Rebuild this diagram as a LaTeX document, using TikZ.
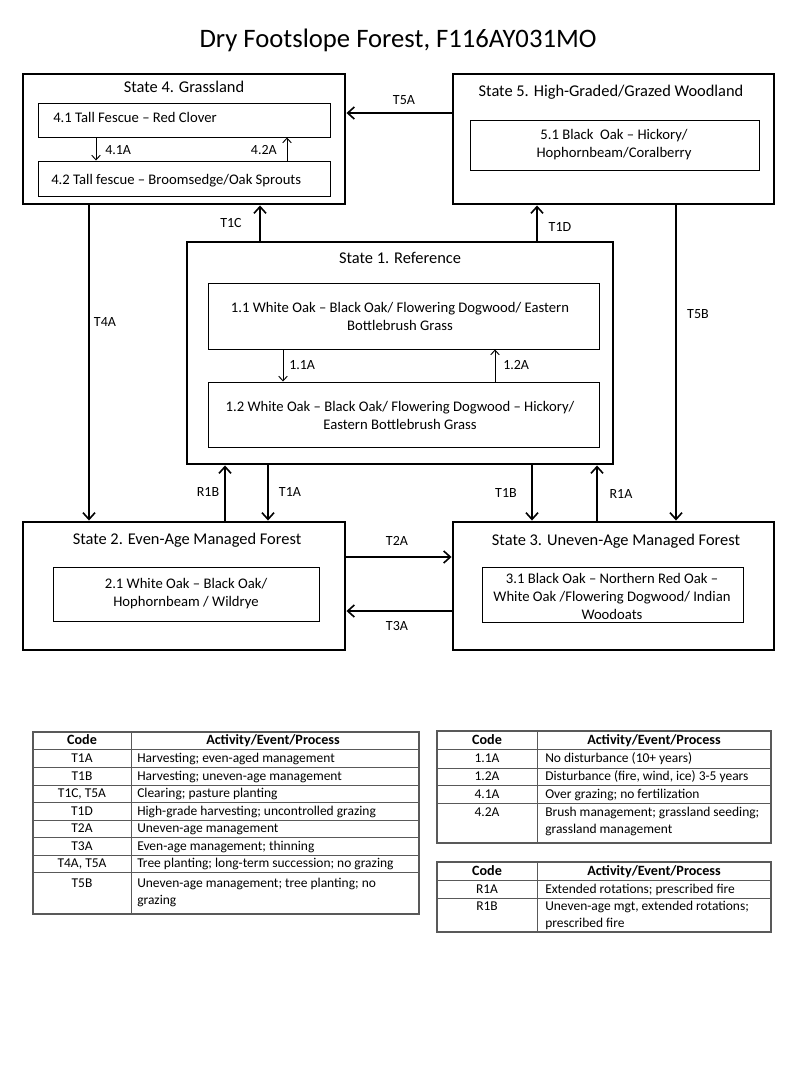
\documentclass[tikz,border=0pt]{standalone}
\usepackage{fontspec}
\setmainfont{Carlito}
\usetikzlibrary{arrows.meta,fit,calc}
\tikzset{
  statebox/.style={draw, line width=2.2pt, inner sep=0pt},
  phasebox/.style={draw, line width=0.75pt, inner sep=0pt},
  arr/.style={line width=1.4pt, -{Straight Barb[length=5pt,width=9pt,line width=1.2pt]}},
  sarr/.style={line width=0.7pt, -{Straight Barb[length=3.5pt,width=6.5pt]}},
  stitle/.style={font=\fontsize{12.3}{14}\selectfont, inner sep=0pt, anchor=mid, yshift=-1.3pt},
  ptext/.style={font=\fontsize{11}{13.5}\selectfont, align=center, inner sep=0pt},
  lbl/.style={font=\fontsize{10.5}{12}\selectfont, inner sep=0pt, anchor=mid, yshift=-1pt},
  tline/.style={draw=black!65, line width=0.6pt},
  tframe/.style={draw=black!65, line width=1.2pt, inner sep=0pt},
  tcell/.style={font=\fontsize{10.1}{12.8}\selectfont, inner sep=0pt, anchor=mid, yshift=-0.8pt},
  tcellw/.style={font=\fontsize{10.1}{12.8}\selectfont, inner sep=0pt, anchor=mid west, yshift=-0.8pt},
  tcellm/.style={font=\fontsize{10.1}{12.8}\selectfont, inner sep=0pt, anchor=north west, align=left},
  thead/.style={font=\bfseries\fontsize{10.6}{12}\selectfont, inner sep=0pt, anchor=mid, yshift=-0.8pt},
}
\begin{document}
\begin{tikzpicture}[x=0.75pt,y=-0.75pt]
\fill[white] (0,0) rectangle (800,1067);
\useasboundingbox (0,0) rectangle (800,1067);

\node[font=\fontsize{20}{24}\selectfont, anchor=mid, yshift=-1pt] (title) at (398,43) {Dry Footslope Forest, F116AY031MO};

% state boxes
\node[statebox, fit={(23,74) (345,204)}] (s4) {};
\node[statebox, fit={(453,74) (774,204)}] (s5) {};
\node[statebox, fit={(187,242) (613,464)}] (s1) {};
\node[statebox, fit={(23,522) (345,650)}] (s2) {};
\node[statebox, fit={(453,522) (774,650)}] (s3) {};

% titles
\node[stitle] (s4t) at (184,88) {State 4. Grassland};
\node[stitle] (s5t) at (611,92) {State 5. High-Graded/Grazed Woodland};
\node[stitle] (s1t) at (400,259) {State 1. Reference};
\node[stitle] (s2t) at (187,540) {State 2. Even-Age Managed Forest};
\node[stitle] (s3t) at (616,541) {State 3. Uneven-Age Managed Forest};

% phase boxes
\node[phasebox, fit={(38,103) (330,137)}] (p41) {};
\node[phasebox, fit={(38,161) (330,196)}] (p42) {};
\node[phasebox, fit={(470,120) (759,170)}] (p51) {};
\node[phasebox, fit={(208,283) (599,349)}] (p11) {};
\node[phasebox, fit={(208,382) (599,447)}] (p12) {};
\node[phasebox, fit={(53,567) (319,621)}] (p21) {};
\node[phasebox, fit={(482,567) (743,622)}] (p31) {};

\node[ptext, anchor=mid west, yshift=-1.2pt] (p41t) at (53,118) {4.1 Tall Fescue -- Red Clover};
\node[ptext, anchor=mid west, yshift=-1.2pt] (p42t) at (51,180) {4.2 Tall fescue -- Broomsedge/Oak Sprouts};
\node[ptext] (p51t) at (614,145) {5.1 Black\ \ Oak -- Hickory/\\Hophornbeam/Coralberry};
\node[ptext] (p11t) at (400,316) {1.1 White Oak -- Black Oak/ Flowering Dogwood/\ Eastern\\Bottlebrush Grass};
\node[ptext] (p12t) at (400,415) {1.2 White Oak -- Black Oak/ Flowering Dogwood -- Hickory/\\Eastern Bottlebrush Grass};
\node[ptext] (p21t) at (186,594) {2.1 White Oak -- Black Oak/\\Hophornbeam\ / Wildrye};
\node[ptext] (p31t) at (612,596) {3.1 Black Oak -- Northern Red Oak --\\White Oak /Flowering Dogwood/\ Indian\\Woodoats};

% within-state transitions
\coordinate (x41A) at (96,0);
\coordinate (x42A) at (287,0);
\coordinate (x11A) at (283,0);
\coordinate (x12A) at (495,0);
\draw[sarr] (p41.south -| x41A) -- (p42.north -| x41A);
\draw[sarr] (p42.north -| x42A) -- (p41.south -| x42A);
\draw[sarr] (p11.south -| x11A) -- (p12.north -| x11A);
\draw[sarr] (p12.north -| x12A) -- (p11.south -| x12A);
\node[lbl, anchor=mid west] (l41A) at (105,150) {4.1A};
\node[lbl, anchor=mid east] (l42A) at (277,150) {4.2A};
\node[lbl, anchor=mid west] (l11A) at (289,365) {1.1A};
\node[lbl, anchor=mid west] (l12A) at (503,365) {1.2A};

% state transitions
\coordinate (yT5A) at (0,113);
\coordinate (yT2A) at (0,557);
\coordinate (yT3A) at (0,611);
\coordinate (xT1C) at (260,0);
\coordinate (xT1D) at (537,0);
\coordinate (xT4A) at (89,0);
\coordinate (xT5B) at (676,0);
\coordinate (xR1B) at (225,0);
\coordinate (xT1A) at (268,0);
\coordinate (xT1B) at (532,0);
\coordinate (xR1A) at (597,0);

\draw[arr] (s5.west |- yT5A) -- (s4.east |- yT5A);
\draw[arr] (s1.north -| xT1C) -- (s4.south -| xT1C);
\draw[arr] (s1.north -| xT1D) -- (s5.south -| xT1D);
\draw[arr] (s4.south -| xT4A) -- (s2.north -| xT4A);
\draw[arr] (s5.south -| xT5B) -- (s3.north -| xT5B);
\draw[arr] (s2.north -| xR1B) -- (s1.south -| xR1B);
\draw[arr] (s1.south -| xT1A) -- (s2.north -| xT1A);
\draw[arr] (s1.south -| xT1B) -- (s3.north -| xT1B);
\draw[arr] (s3.north -| xR1A) -- (s1.south -| xR1A);
\draw[arr] (s2.east |- yT2A) -- (s3.west |- yT2A);
\draw[arr] (s3.west |- yT3A) -- (s2.east |- yT3A);

\node[lbl] (lT5A) at (404,100) {T5A};
\node[lbl] (lT1C) at (231,223) {T1C};
\node[lbl] (lT1D) at (560,227) {T1D};
\node[lbl] (lT4A) at (105,322) {T4A};
\node[lbl] (lT5B) at (698,314) {T5B};
\node[lbl] (lR1B) at (208,492) {R1B};
\node[lbl] (lT1A) at (290,492) {T1A};
\node[lbl] (lT1B) at (506,493) {T1B};
\node[lbl] (lR1A) at (621,494) {R1A};
\node[lbl] (lT2A) at (397,541) {T2A};
\node[lbl] (lT3A) at (397,626) {T3A};

% ---------- table A ----------
\node[tframe, fit={(33,732) (419,914)}] (tabA) {};
\foreach \yy in {749,767,785,802,820,837,855,872}
  \draw[tline] (tabA.west |- 0,\yy) -- (tabA.east |- 0,\yy);
\draw[tline] (tabA.north -| 131,0) -- (tabA.south -| 131,0);
\node[thead] (aH1) at (82,740.5) {Code};
\node[thead] (aH2) at (273,740.5) {Activity/Event/Process};
\node[tcell] (a1c) at (82,758) {T1A};
\node[tcellw] (a1t) at (137,758) {Harvesting; even-aged management};
\node[tcell] (a2c) at (82,776) {T1B};
\node[tcellw] (a2t) at (137,776) {Harvesting; uneven-age management};
\node[tcell] (a3c) at (82,793.5) {T1C, T5A};
\node[tcellw] (a3t) at (137,793.5) {Clearing; pasture planting};
\node[tcell] (a4c) at (82,811) {T1D};
\node[tcellw] (a4t) at (137,811) {High-grade harvesting; uncontrolled grazing};
\node[tcell] (a5c) at (82,828.5) {T2A};
\node[tcellw] (a5t) at (137,828.5) {Uneven-age management};
\node[tcell] (a6c) at (82,846) {T3A};
\node[tcellw] (a6t) at (137,846) {Even-age management; thinning};
\node[tcell] (a7c) at (82,863.5) {T4A, T5A};
\node[tcellw] (a7t) at (137,863.5) {Tree planting; long-term succession; no grazing};
\node[tcell] (a8c) at (82,883) {T5B};
\node[tcellm] (a8t) at (137,878) {Uneven-age management; tree planting; no\\grazing};

% ---------- table B ----------
\node[tframe, fit={(437,731) (771,843)}] (tabB) {};
\foreach \yy in {749,768,785,803}
  \draw[tline] (tabB.west |- 0,\yy) -- (tabB.east |- 0,\yy);
\draw[tline] (tabB.north -| 537,0) -- (tabB.south -| 537,0);
\node[thead] (bH1) at (487,740) {Code};
\node[thead] (bH2) at (654,740) {Activity/Event/Process};
\node[tcell] (b1c) at (487,758.5) {1.1A};
\node[tcellw] (b1t) at (545,758.5) {No disturbance (10+ years)};
\node[tcell] (b2c) at (487,776.5) {1.2A};
\node[tcellw] (b2t) at (545,776.5) {Disturbance (fire, wind, ice) 3-5 years};
\node[tcell] (b3c) at (487,794) {4.1A};
\node[tcellw] (b3t) at (545,794) {Over grazing; no fertilization};
\node[tcell] (b4c) at (487,812) {4.2A};
\node[tcellm] (b4t) at (545,807) {Brush management; grassland seeding;\\grassland management};

% ---------- table C ----------
\node[tframe, fit={(437,862) (771,932)}] (tabC) {};
\foreach \yy in {880,898}
  \draw[tline] (tabC.west |- 0,\yy) -- (tabC.east |- 0,\yy);
\draw[tline] (tabC.north -| 537,0) -- (tabC.south -| 537,0);
\node[thead] (cH1) at (487,871) {Code};
\node[thead] (cH2) at (654,871) {Activity/Event/Process};
\node[tcell] (c1c) at (487,889) {R1A};
\node[tcellw] (c1t) at (545,889) {Extended rotations; prescribed fire};
\node[tcell] (c2c) at (487,906) {R1B};
\node[tcellm] (c2t) at (545,901) {Uneven-age mgt, extended rotations;\\prescribed fire};
\end{tikzpicture}
\end{document}
